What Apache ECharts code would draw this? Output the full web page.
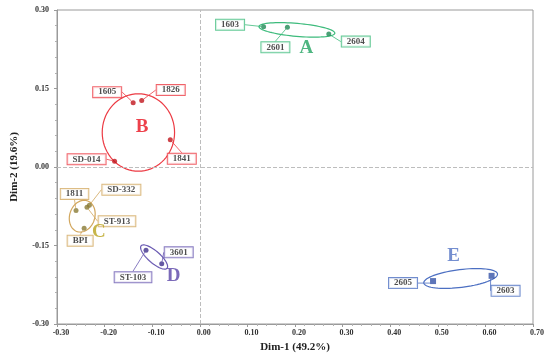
<!DOCTYPE html>
<html><head><meta charset="utf-8">
<script src="https://cdn.jsdelivr.net/npm/echarts@6/dist/echarts.min.js"></script>
<style>html,body{margin:0;padding:0;background:#fff}#c{width:550px;height:354px}</style>
</head><body><div id="c"></div>
<script>
// ---- data ----
const groups = ['A', 'B', 'C', 'D', 'E'];
const groupLine = ['#3dbb7c', '#ec3b44', '#d2a75e', '#6a5ab2', '#4c6fc2'];
const groupPoint = ['#1f8a55', '#c0141c', '#8a7a35', '#3e2f8c', '#3552a8'];
const groupLetter = ['#23a462', '#e8121e', '#b9a21c', '#5a45a8', '#5273c4'];
const sampleNames = ['1603', '2601', '2604', '1605', '1826', '1841', 'SD-014', '1811', 'SD-332', 'ST-913', 'BPI', '3601', 'ST-103', '2605', '2603'];
const sampleGroup = [0, 0, 0, 1, 1, 1, 1, 2, 2, 2, 2, 3, 3, 4, 4];
const dim1 = [0.134, 0.184, 0.271, -0.140, -0.122, -0.062, -0.179, -0.260, -0.232, -0.237, -0.243, -0.080, -0.113, 0.490, 0.613];
const dim2 = [0.268, 0.267, 0.254, 0.123, 0.127, 0.052, 0.011, -0.083, -0.073, -0.077, -0.117, -0.185, -0.159, -0.218, -0.208];
// label box displacement (px) from each point
const labelDX = [-33.5, -12, 27, -26, 29, 11.5, -28, -1.5, 32, 30, -4, 17, -13, -30, 14];
const labelDY = [-2, 20, 7.5, -10.5, -10.5, 19, -2, -16.5, -15.5, 14, 12.5, -11.5, 27, 2, 15];
// confidence ellipses (centre in data units, semi-axes in data units, screen angle deg)
const ellCX = [0.204, -0.129, -0.247, -0.096, 0.548];
const ellCY = [0.262, 0.066, -0.094, -0.172, -0.213];
const ellA = [0.080, 0.076, 0.034, 0.036, 0.078];
const ellB = [0.0124, 0.074, 0.024, 0.0114, 0.017];
const ellAngle = [5, 0, -72, 41, -7];
// group letter positions (data units)
const letterX = [0.224, -0.121, -0.212, -0.055, 0.533];
const letterY = [0.228, 0.077, -0.125, -0.208, -0.171];
const xAxisName = 'Dim-1 (49.2%)';
const yAxisName = 'Dim-2 (19.6%)';

const serif = '"Liberation Serif", "DejaVu Serif", serif';
const chart = echarts.init(document.getElementById('c'), null, {renderer: 'canvas'});

const pointData = sampleNames.map((n, i) => {
  const g = sampleGroup[i];
  return {
    name: n,
    value: [dim1[i], dim2[i]],
    symbol: g === 4 ? 'rect' : 'circle',
    symbolSize: g === 4 ? 6 : 5,
    itemStyle: {color: groupPoint[g]},
    label: {borderColor: groupLine[g]},
    labelLine: {lineStyle: {color: groupLine[g]}}
  };
});

const axisCommon = {
  axisLine: {show: true, onZero: false, lineStyle: {color: '#9a9a9a', width: 1}},
  axisTick: {show: true, length: 3, lineStyle: {color: '#9a9a9a'}},
  minorTick: {show: true, splitNumber: 5, length: 2, lineStyle: {color: '#b0b0b0'}},
  splitLine: {show: false},
  axisLabel: {fontFamily: serif, fontSize: 8, fontWeight: 'bold', color: '#333', formatter: v => v.toFixed(2)},
  nameLocation: 'middle',
  nameTextStyle: {fontFamily: serif, fontSize: 11, fontWeight: 'bold', color: '#222'}
};

chart.setOption({
  animation: false,
  grid: {left: 57, right: 17, top: 10, bottom: 30, containLabel: false, outerBoundsMode: 'none', show: true, borderColor: '#9a9a9a', borderWidth: 1},
  xAxis: Object.assign({}, axisCommon, {type: 'value', min: -0.3, max: 0.7, interval: 0.1, name: xAxisName, nameGap: 16,
    axisLabel: Object.assign({}, axisCommon.axisLabel, {padding: [0, 0, 0, 8], margin: 5})}),
  yAxis: Object.assign({}, axisCommon, {type: 'value', min: -0.3, max: 0.3, interval: 0.15, name: yAxisName, nameGap: 37}),
  series: [
    {
      type: 'custom',
      coordinateSystem: 'cartesian2d',
      silent: true,
      z: 1,
      data: groups.map((g, i) => [ellCX[i], ellCY[i], i]),
      renderItem: (params, api) => {
        const i = api.value(2);
        const c = api.coord([api.value(0), api.value(1)]);
        const a = api.size([ellA[i], 0])[0];
        const b = api.size([0, ellB[i]])[1];
        const phi = ellAngle[i] * Math.PI / 180;
        const pts = [];
        for (let k = 0; k < 72; k++) {
          const t = k / 72 * Math.PI * 2;
          const ex = a * Math.cos(t), ey = b * Math.sin(t);
          pts.push([c[0] + ex * Math.cos(phi) - ey * Math.sin(phi), c[1] + ex * Math.sin(phi) + ey * Math.cos(phi)]);
        }
        return {type: 'polygon', shape: {points: pts}, style: {fill: 'none', stroke: groupLine[i], lineWidth: 1.2}};
      }
    },
    {
      type: 'scatter',
      z: 3,
      data: pointData,
      label: {
        show: true,
        position: 'inside',
        formatter: p => p.name,
        fontFamily: serif, fontSize: 9, fontWeight: 'bold', color: '#222',
        backgroundColor: '#fff', borderWidth: 1, padding: [1, 5, 0, 5]
      },
      labelLine: {show: true, lineStyle: {width: 0.8}},
      labelLayout: p => ({dx: labelDX[p.dataIndex], dy: labelDY[p.dataIndex]}),
      markLine: {
        silent: true, symbol: 'none', label: {show: false},
        lineStyle: {color: '#bdbdbd', type: 'dashed', width: 1},
        data: [{xAxis: 0}, {yAxis: 0}]
      }
    },
    {
      type: 'scatter',
      z: 4,
      symbolSize: 0,
      silent: true,
      data: groups.map((g, i) => ({name: g, value: [letterX[i], letterY[i]], label: {color: groupLetter[i]}})),
      label: {show: true, position: 'inside', formatter: p => p.name, fontFamily: serif, fontSize: 19, fontWeight: 'bold'}
    }
  ]
});
</script></body></html>
